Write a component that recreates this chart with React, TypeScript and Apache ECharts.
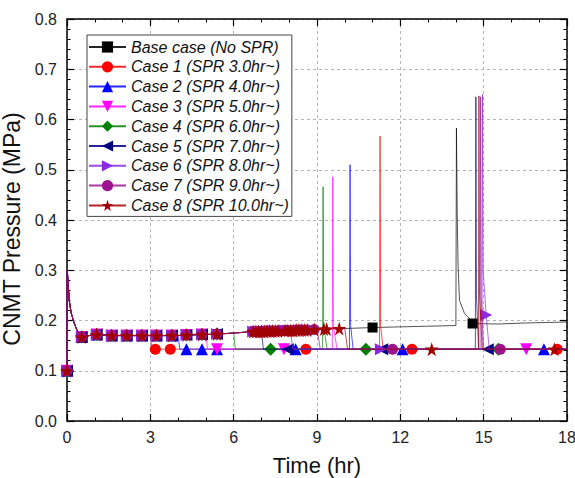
import React, { useEffect, useRef } from 'react';
import * as echarts from 'echarts';

type Pt = [number, number];

// ---- data ----
const seriesNames = [
  'Base case (No SPR)',
  'Case 1 (SPR 3.0hr~)',
  'Case 2 (SPR 4.0hr~)',
  'Case 3 (SPR 5.0hr~)',
  'Case 4 (SPR 6.0hr~)',
  'Case 5 (SPR 7.0hr~)',
  'Case 6 (SPR 8.0hr~)',
  'Case 7 (SPR 9.0hr~)',
  'Case 8 (SPR 10.0hr~)',
];

// SPR start time (hr) of each case (Infinity = no SPR)
const sprStart = [Infinity, 3.0, 4.0, 5.0, 6.0, 7.0, 8.05, 9.0, 10.0];

// trace shared by every case until its SPR starts
const sharedTrace: Pt[] = [
  [0, 0.1], [0.01, 0.3], [0.08, 0.24], [0.15, 0.215], [0.25, 0.196], [0.35, 0.182],
  [0.45, 0.172], [0.53, 0.167], [0.8, 0.17], [1.07, 0.172], [1.61, 0.17], [2.15, 0.17],
  [2.7, 0.17], [3.0, 0.17], [3.22, 0.17], [3.78, 0.17], [4.0, 0.17], [4.3, 0.171],
  [4.86, 0.172], [5.0, 0.172], [5.4, 0.173], [6.0, 0.175], [6.7, 0.178], [7.0, 0.178],
  [7.6, 0.179], [8.05, 0.18], [8.6, 0.181], [9.0, 0.182], [9.3, 0.183], [9.8, 0.184],
  [10.0, 0.184], [11.0, 0.186], [14.0, 0.19],
];

// symbols on the shared trace
const sharedMarks: Pt[] = [
  [0, 0.1], [0.53, 0.167], [1.07, 0.172], [1.61, 0.17], [2.15, 0.17], [2.7, 0.17],
  [3.22, 0.17], [3.78, 0.17], [4.3, 0.171], [4.86, 0.172], [5.4, 0.173],
  [6.7, 0.178], [6.8, 0.178], [6.9, 0.178], [7.0, 0.178], [7.1, 0.178], [7.2, 0.179],
  [7.3, 0.179], [7.4, 0.179], [7.5, 0.179], [7.6, 0.179], [7.85, 0.18], [7.95, 0.18],
  [8.05, 0.18], [8.15, 0.18], [8.25, 0.181], [8.35, 0.181], [8.45, 0.181], [8.55, 0.181],
  [8.65, 0.181], [8.9, 0.182], [9.25, 0.183], [9.35, 0.183], [9.8, 0.184],
];

const basePost: Pt[] = [
  [14.02, 0.583], [14.05, 0.4], [14.08, 0.307], [14.13, 0.24], [14.31, 0.214],
  [14.49, 0.204], [14.6, 0.194], [15.5, 0.193], [16.5, 0.195], [18, 0.197],
];
const baseMarks: Pt[] = [
  [0, 0.1], [0.53, 0.167], [1.07, 0.172], [1.61, 0.17], [2.15, 0.17], [2.7, 0.17],
  [3.22, 0.17], [3.78, 0.17], [4.3, 0.171], [4.86, 0.172], [5.4, 0.173],
  [7.75, 0.18], [11.0, 0.186], [14.6, 0.194],
];

const case1Post: Pt[] = [[3.06, 0.143], [11.25, 0.143], [11.27, 0.567], [11.29, 0.19], [11.38, 0.143], [18, 0.143]];
const case2Post: Pt[] = [[4.06, 0.143], [10.17, 0.143], [10.19, 0.51], [10.21, 0.19], [10.3, 0.143], [18, 0.143]];
const case3Post: Pt[] = [[5.06, 0.143], [9.55, 0.143], [9.57, 0.486], [9.59, 0.19], [9.72, 0.143], [18, 0.143]];
const case4Post: Pt[] = [[6.06, 0.143], [9.2, 0.143], [9.22, 0.466], [9.24, 0.19], [9.36, 0.143], [18, 0.143]];
const case5Post: Pt[] = [[7.07, 0.143], [14.7, 0.143], [14.72, 0.645], [14.74, 0.25], [14.82, 0.143], [18, 0.143]];
const case6Post: Pt[] = [[8.12, 0.143], [14.94, 0.143], [14.96, 0.65], [14.98, 0.3], [15.09, 0.211], [15.2, 0.143], [18, 0.143]];
const case7Post: Pt[] = [[9.12, 0.143], [14.87, 0.143], [14.89, 0.645], [14.91, 0.25], [15.0, 0.143], [18, 0.143]];
const case8Post: Pt[] = [[10.1, 0.143], [14.81, 0.143], [14.83, 0.647], [14.85, 0.25], [14.95, 0.143], [18, 0.143]];

const case1Marks: Pt[] = [[3.18, 0.143], [3.72, 0.143], [8.6, 0.143], [12.42, 0.143], [17.65, 0.143]];
const case2Marks: Pt[] = [[4.3, 0.143], [4.86, 0.143], [5.4, 0.143], [8.23, 0.143], [12.08, 0.143], [17.17, 0.143]];
const case3Marks: Pt[] = [[5.4, 0.143], [7.81, 0.143], [16.53, 0.143]];
const case4Marks: Pt[] = [[7.33, 0.143], [10.76, 0.143], [15.53, 0.143]];
const case5Marks: Pt[] = [[7.95, 0.143], [11.35, 0.143], [15.15, 0.143]];
const case6Marks: Pt[] = [[11.3, 0.143], [15.09, 0.211]];
const case7Marks: Pt[] = [[11.72, 0.143], [15.6, 0.143]];
const case8Marks: Pt[] = [[13.13, 0.143], [17.55, 0.143]];

const postTraces: Pt[][] = [basePost, case1Post, case2Post, case3Post, case4Post, case5Post, case6Post, case7Post, case8Post];
const ownMarks: Pt[][] = [[], case1Marks, case2Marks, case3Marks, case4Marks, case5Marks, case6Marks, case7Marks, case8Marks];

// ---- styles ----
const colors = ['#000000', '#ff0000', '#0000ff', '#ff00ff', '#008000', '#000080', '#8a2be2', '#9c1490', '#a00000'];
const STAR = 'path://M50,0 L61,35 L98,35 L68,57 L79,91 L50,70 L21,91 L32,57 L2,35 L39,35 Z';
const symbols = [
  'rect', 'circle', 'triangle', 'path://M0,0 L10,0 L5,10 Z', 'diamond',
  'path://M10,0 L10,10 L0,5 Z', 'path://M0,0 L10,5 L0,10 Z', 'circle', STAR,
];
const symbolSizes = [10, 11, 12, 12, 13, 12, 12, 11, 14];
const FONT = "'Liberation Sans', Arial, sans-serif";

function buildData(line: Pt[], marks: Pt[]) {
  const items: { value: Pt; symbol?: string; k: number }[] = [
    ...line.map((p) => ({ value: p, symbol: 'none', k: 0 })),
    ...marks.map((p) => ({ value: p, k: 1 })),
  ];
  items.sort((a, b) => a.value[0] - b.value[0] || a.k - b.k);
  return items.map(({ k, ...rest }) => rest);
}

export default function App() {
  const ref = useRef<HTMLDivElement>(null);
  useEffect(() => {
    if (!ref.current) return;
    const chart = echarts.init(ref.current, undefined, { renderer: 'svg' });

    const series = seriesNames.map((name, i) => {
      const spr = sprStart[i];
      const line = [...sharedTrace.filter((p) => p[0] <= spr), ...postTraces[i]];
      const marks = [...(i === 0 ? baseMarks : sharedMarks.filter((p) => p[0] < spr)), ...ownMarks[i]];
      return {
        name,
        type: 'line',
        xAxisIndex: 0,
        yAxisIndex: 0,
        data: buildData(line, marks),
        symbol: symbols[i],
        symbolSize: symbolSizes[i],
        showAllSymbol: true,
        itemStyle: { color: colors[i] },
        lineStyle: { color: colors[i], width: 0.8, opacity: 0.85 },
        emphasis: { disabled: true },
        z: 2 + i,
      };
    });

    const axisLine = { show: true, onZero: false, lineStyle: { color: '#000', width: 1.5 } };
    const axisTick = { show: true, inside: true, length: 7, lineStyle: { color: '#000', width: 1.2 } };
    const splitLine = { show: true, lineStyle: { color: '#b4b4b4', type: [3, 3] as any, width: 1 } };
    const minorTick = (n: number) => ({ show: true, splitNumber: n, length: 3.5, lineStyle: { color: '#000', width: 1 } });

    chart.setOption({
      animation: false,
      backgroundColor: '#ffffff',
      grid: { left: 67, right: 8, top: 19, bottom: 57, containLabel: false, outerBoundsMode: 'none' },
      legend: {
        orient: 'vertical',
        left: 87,
        top: 35,
        padding: [3, 3, 2, 1],
        itemWidth: 37,
        itemHeight: 14,
        itemGap: 1.8,
        borderColor: '#444',
        borderWidth: 1,
        backgroundColor: '#ffffff',
        textStyle: { fontSize: 16, fontStyle: 'italic', color: '#111', fontFamily: FONT, lineHeight: 18 },
        data: seriesNames,
      },
      xAxis: [
        {
          type: 'value', min: 0, max: 18, interval: 3, position: 'bottom',
          axisLine, axisTick, minorTick: minorTick(3),
          axisLabel: { fontSize: 16, color: '#222', margin: 8, fontFamily: FONT },
          splitLine,
          name: 'Time (hr)', nameLocation: 'middle', nameGap: 33,
          nameTextStyle: { fontSize: 22, color: '#111', fontFamily: FONT },
        },
        {
          type: 'value', min: 0, max: 18, interval: 3, position: 'top',
          axisLine, axisTick, minorTick: minorTick(3),
          axisLabel: { show: false }, splitLine: { show: false },
        },
      ],
      yAxis: [
        {
          type: 'value', min: 0, max: 0.8, interval: 0.1, position: 'left',
          axisLine, axisTick, minorTick: minorTick(5),
          axisLabel: { fontSize: 16, color: '#222', margin: 10, fontFamily: FONT, formatter: (v: number) => v.toFixed(1) },
          splitLine,
          name: 'CNMT Pressure (MPa)', nameLocation: 'middle', nameGap: 39,
          nameTextStyle: { fontSize: 23, color: '#111', fontFamily: FONT, padding: [0, 18, 0, 0] },
        },
        {
          type: 'value', min: 0, max: 0.8, interval: 0.1, position: 'right',
          axisLine, axisTick, minorTick: minorTick(5),
          axisLabel: { show: false }, splitLine: { show: false },
        },
      ],
      series,
    } as any);
    return () => chart.dispose();
  }, []);
  return <div ref={ref} style={{ position: 'fixed', left: 0, top: 0, width: 575, height: 478 }} />;
}
